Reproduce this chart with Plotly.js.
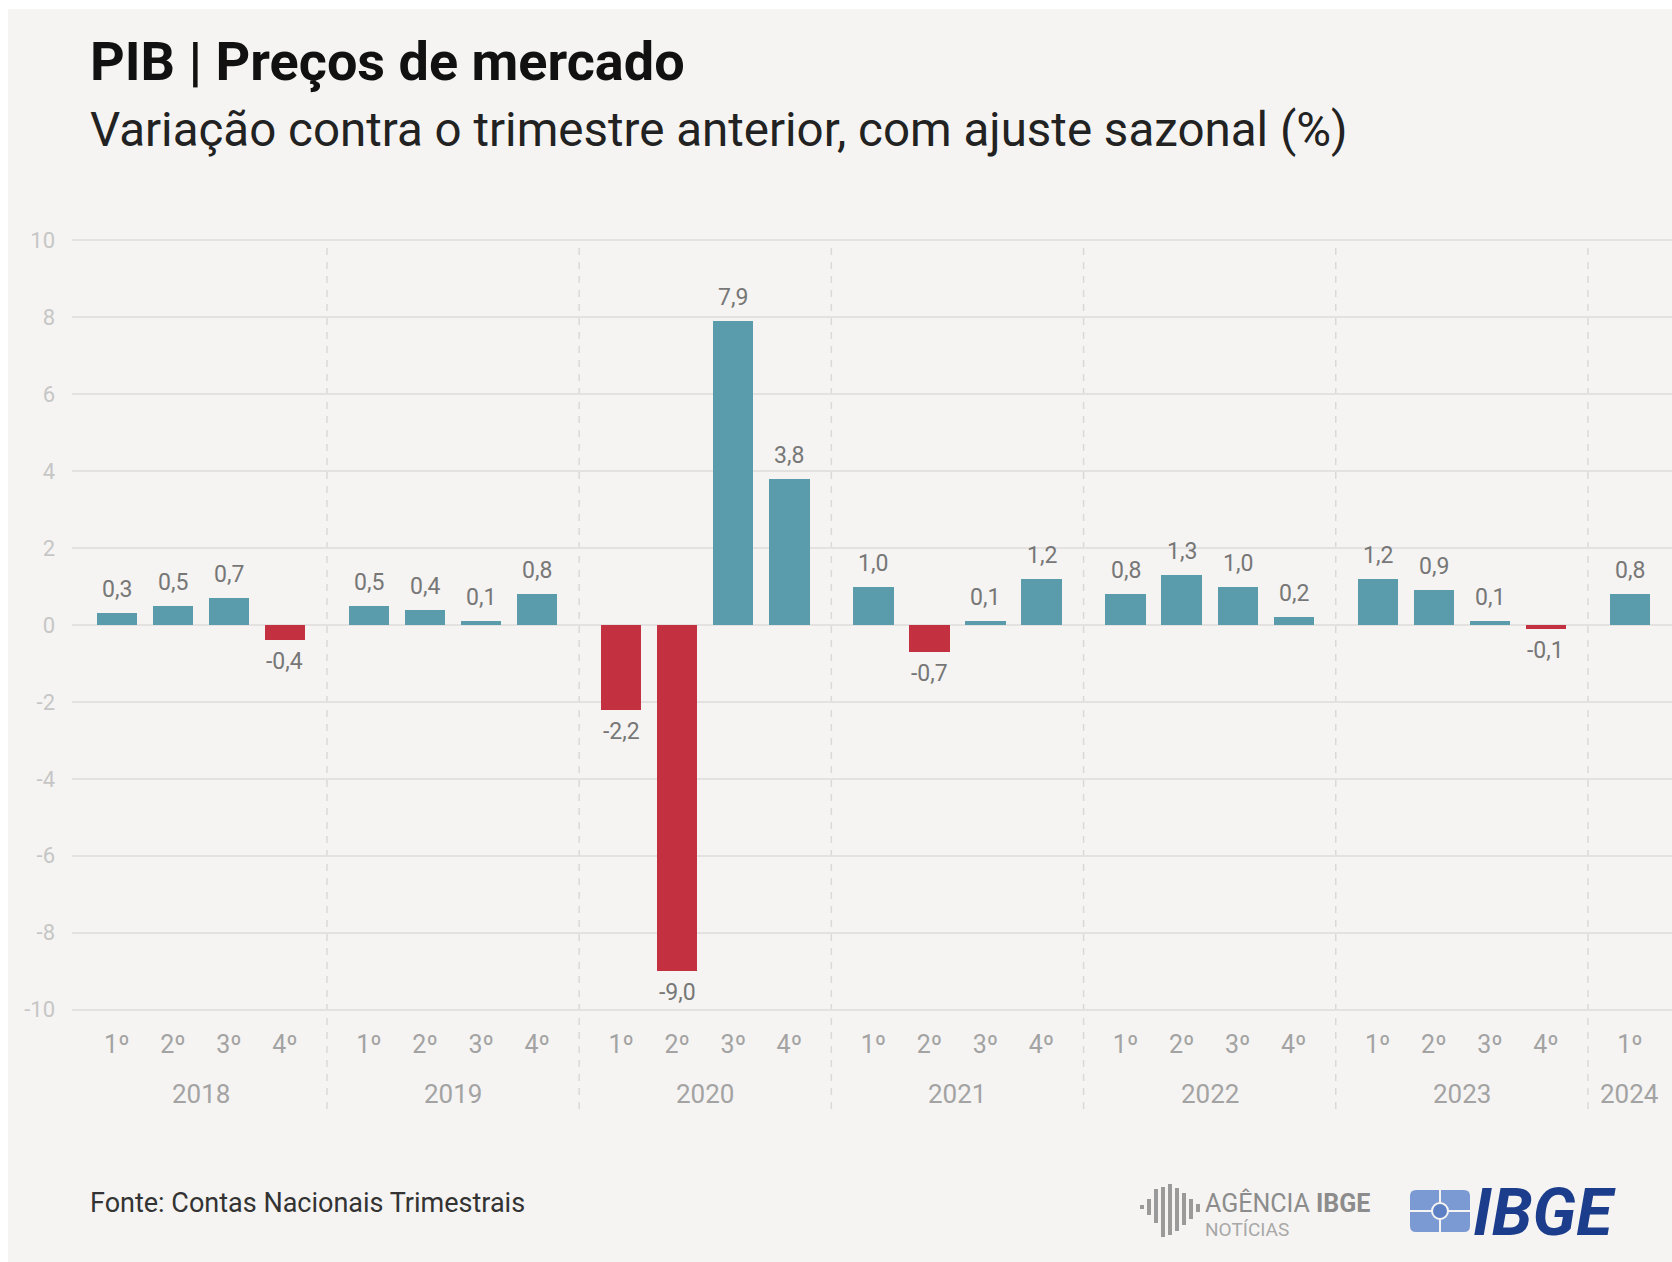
<!DOCTYPE html>
<html>
<head>
<meta charset="utf-8">
<script src="https://cdn.plot.ly/plotly-3.0.1.min.js"></script>
<style>
  html, body { margin: 0; padding: 0; background: #ffffff; }
  #chart { position: absolute; left: 8px; top: 9px; width: 1664px; height: 1253px; }
</style>
</head>
<body>
<div id="chart"></div>
<script>
// ---- Data ----
const years = ['2018', '2019', '2020', '2021', '2022', '2023', '2024'];
const quarterLabels = ['1º', '2º', '3º', '4º'];
const yearOfBar = ['2018','2018','2018','2018','2019','2019','2019','2019','2020','2020','2020','2020',
                   '2021','2021','2021','2021','2022','2022','2022','2022','2023','2023','2023','2023','2024'];
const quarterOfBar = [1,2,3,4, 1,2,3,4, 1,2,3,4, 1,2,3,4, 1,2,3,4, 1,2,3,4, 1];
const values = [0.3, 0.5, 0.7, -0.4,
                0.5, 0.4, 0.1, 0.8,
                -2.2, -9.0, 7.9, 3.8,
                1.0, -0.7, 0.1, 1.2,
                0.8, 1.3, 1.0, 0.2,
                1.2, 0.9, 0.1, -0.1,
                0.8];
const yTicks = [-10, -8, -6, -4, -2, 0, 2, 4, 6, 8, 10];

// ---- Layout helpers ----
const W = 1664, H = 1253, ML = 64, MR = 0, MT = 216, MB = 237;
const PW = W - ML - MR, PH = H - MT - MB;
const px = x => (x - ML) / PW;
const py = y => (H - MB - y) / PH;

const FONT = '"Liberation Sans Narrow", "Roboto", "DejaVu Sans Condensed", sans-serif';
const YEAR_STEP = 4.5;
const xs = values.map((v, i) => years.indexOf(yearOfBar[i]) * YEAR_STEP + (quarterOfBar[i] - 1));
const colors = values.map(v => v < 0 ? '#c3303f' : '#5a9cab');
const labels = values.map(v => v.toFixed(1).replace('.', ','));

const trace = {
  type: 'bar',
  x: xs,
  y: values,
  width: 0.72,
  marker: { color: colors, line: { width: 0 } },
  hoverinfo: 'skip'
};

const annotations = [];
// value labels
values.forEach((v, i) => {
  annotations.push({
    x: xs[i], y: v, xref: 'x', yref: 'y',
    text: labels[i], showarrow: false,
    yanchor: v < 0 ? 'top' : 'bottom',
    yshift: v < 0 ? -6 : 8,
    font: { family: FONT, size: 23, color: '#777777' }
  });
});
// year labels
years.forEach(yr => {
  const pos = xs.filter((x, i) => yearOfBar[i] === yr);
  const mid = (Math.min(...pos) + Math.max(...pos)) / 2;
  annotations.push({
    x: mid, xref: 'x', y: py(1085), yref: 'paper', yanchor: 'middle',
    text: yr, showarrow: false,
    font: { family: FONT, size: 26, color: '#a3a3a3' }
  });
});
// titles and footer
annotations.push({
  x: px(80), y: py(53), xref: 'paper', yref: 'paper', xanchor: 'left', yanchor: 'middle',
  text: '<b>PIB | Preços de mercado</b>', showarrow: false,
  font: { family: FONT, size: 54, color: '#111111' }
});
annotations.push({
  x: px(80), y: py(121), xref: 'paper', yref: 'paper', xanchor: 'left', yanchor: 'middle',
  text: 'Variação contra o trimestre anterior, com ajuste sazonal (%)', showarrow: false,
  font: { family: FONT, size: 47.5, color: '#222222' }
});
annotations.push({
  x: px(80), y: py(1194), xref: 'paper', yref: 'paper', xanchor: 'left', yanchor: 'middle',
  text: 'Fonte: Contas Nacionais Trimestrais', showarrow: false,
  font: { family: FONT, size: 27, color: '#333333' }
});
// logos (text)
annotations.push({
  x: px(1195), y: py(1194), xref: 'paper', yref: 'paper', xanchor: 'left', yanchor: 'middle',
  text: 'AGÊNCIA <b>IBGE</b>', showarrow: false,
  font: { family: FONT, size: 25, color: '#8c8c8c' }
});
annotations.push({
  x: px(1195), y: py(1220), xref: 'paper', yref: 'paper', xanchor: 'left', yanchor: 'middle',
  text: 'NOTÍCIAS', showarrow: false,
  font: { family: FONT, size: 19, color: '#a8a8a8' }
});
annotations.push({
  x: px(1463), y: py(1203), xref: 'paper', yref: 'paper', xanchor: 'left', yanchor: 'middle',
  text: '<b><i>IBGE</i></b>', showarrow: false,
  font: { family: FONT, size: 66, color: '#1c3c8c' }
});

const shapes = [];
// dashed year separators
for (let k = 1; k < years.length; k++) {
  const xsep = k * YEAR_STEP - 0.75;
  shapes.push({
    type: 'line', xref: 'x', yref: 'paper', x0: xsep, x1: xsep, y0: py(1100), y1: py(234),
    line: { color: '#d9d9d9', width: 1.5, dash: '7px,7px' }, layer: 'below'
  });
}
// Agência IBGE icon (vertical bars)
const barIcon = [[1134, 1196, 1200], [1141, 1190, 1206], [1148, 1180, 1214], [1155, 1178, 1228],
                 [1162, 1175, 1226], [1169, 1179, 1222], [1176, 1184, 1216], [1183, 1190, 1210], [1190, 1195, 1203]];
barIcon.forEach(b => shapes.push({
  type: 'line', xref: 'paper', yref: 'paper', x0: px(b[0]), x1: px(b[0]), y0: py(b[2]), y1: py(b[1]),
  line: { color: '#9a9a9a', width: 4 }
}));
// IBGE emblem
const r = 6;
shapes.push({
  type: 'path', xref: 'paper', yref: 'paper',
  path: `M ${px(1402 + r)} ${py(1181)} L ${px(1462 - r)} ${py(1181)} Q ${px(1462)} ${py(1181)} ${px(1462)} ${py(1181 + r)} ` +
        `L ${px(1462)} ${py(1223 - r)} Q ${px(1462)} ${py(1223)} ${px(1462 - r)} ${py(1223)} ` +
        `L ${px(1402 + r)} ${py(1223)} Q ${px(1402)} ${py(1223)} ${px(1402)} ${py(1223 - r)} ` +
        `L ${px(1402)} ${py(1181 + r)} Q ${px(1402)} ${py(1181)} ${px(1402 + r)} ${py(1181)} Z`,
  fillcolor: '#7b99d2', line: { width: 0 }
});
shapes.push({
  type: 'line', xref: 'paper', yref: 'paper', x0: px(1402), x1: px(1462), y0: py(1202), y1: py(1202),
  line: { color: '#f5f4f2', width: 2 }
});
shapes.push({
  type: 'line', xref: 'paper', yref: 'paper', x0: px(1432), x1: px(1432), y0: py(1181), y1: py(1223),
  line: { color: '#f5f4f2', width: 2 }
});
shapes.push({
  type: 'circle', xref: 'paper', yref: 'paper', x0: px(1424), x1: px(1440), y0: py(1210), y1: py(1194),
  fillcolor: '#5d7fc4', line: { color: '#f5f4f2', width: 2 }
});

const layout = {
  width: W, height: H,
  margin: { l: ML, r: MR, t: MT, b: MB, pad: 0 },
  paper_bgcolor: '#f5f4f2',
  plot_bgcolor: '#f5f4f2',
  showlegend: false,
  bargap: 0,
  xaxis: {
    range: [-0.8, 27.75],
    tickmode: 'array',
    tickvals: xs,
    ticktext: quarterOfBar.map(q => quarterLabels[q - 1]),
    tickfont: { family: FONT, size: 25, color: '#a3a3a3' },
    showgrid: false, zeroline: false, showline: false, ticks: '',
    ticklabelstandoff: 2,
    fixedrange: true
  },
  yaxis: {
    range: [-10.4, 10.4],
    tickmode: 'array',
    tickvals: yTicks,
    ticktext: yTicks.map(String),
    tickfont: { family: FONT, size: 22, color: '#c6c6c6' },
    showgrid: true, gridcolor: '#e3e2e0', gridwidth: 2,
    zeroline: true, zerolinecolor: '#e3e2e0', zerolinewidth: 2,
    showline: false, ticks: '',
    ticklabelstandoff: 16,
    fixedrange: true
  },
  annotations: annotations,
  shapes: shapes
};

Plotly.newPlot('chart', [trace], layout, { displayModeBar: false, staticPlot: true });
</script>
</body>
</html>
